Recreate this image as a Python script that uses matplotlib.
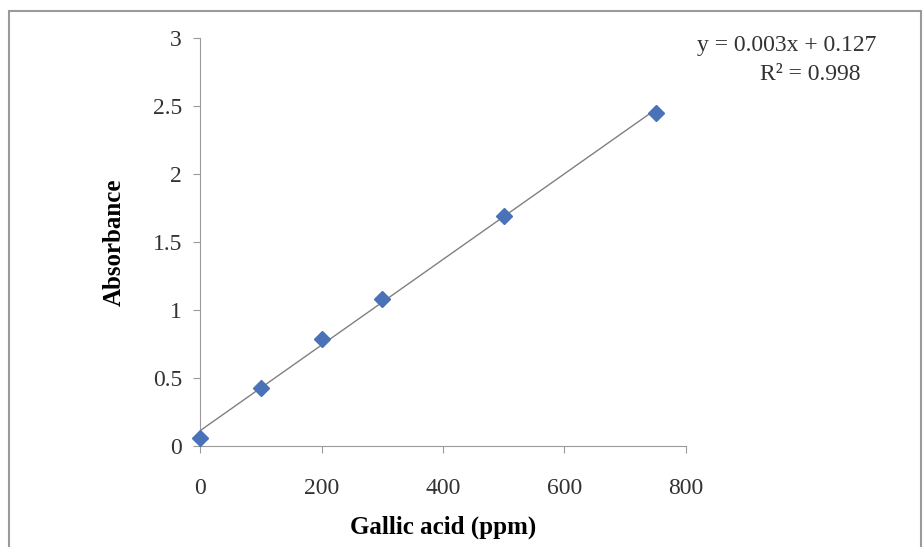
import numpy as np
import matplotlib; matplotlib.use("Agg")
import matplotlib.pyplot as plt
from matplotlib.patches import Rectangle

plt.rcParams.update({"font.family": ["Liberation Serif", "DejaVu Serif"]})

# data
conc = [0, 100, 200, 300, 500, 750]          # Gallic acid (ppm)
absorb = [0.06, 0.43, 0.79, 1.08, 1.69, 2.45]  # Absorbance
eq_text = "y = 0.003x + 0.127"
r2_text = "R² = 0.998"
x_ticks = [0, 200, 400, 600, 800]
y_ticks = [0, 0.5, 1, 1.5, 2, 2.5, 3]
y_ticklabels = ["0", "0.5", "1", "1.5", "2", "2.5", "3"]

fig = plt.figure(figsize=(9.23, 5.47), dpi=100)
fig.patches.append(Rectangle((0.0098, -0.01), 0.988, 0.989, transform=fig.transFigure,
                             fill=False, edgecolor="#9a9a9a", lw=1.5))
ax = fig.add_axes([0.2167, 0.1846, 0.5265, 0.7459])

# linear trendline
m, b = np.polyfit(conc, absorb, 1)
xl = np.array([conc[0], conc[-1]])
ax.plot(xl, m*xl+b, color="#808080", lw=1.0, zorder=2)
ax.plot(conc, absorb, ls="none", marker="D", ms=8, color="#4a72b8", zorder=3, clip_on=False)

ax.set_xlim(0, 800); ax.set_ylim(0, 3)
ax.set_xticks(x_ticks); ax.set_yticks(y_ticks)
ax.set_yticklabels(y_ticklabels)
for s in ["top", "right"]: ax.spines[s].set_visible(False)
for s in ["left", "bottom"]: ax.spines[s].set_color("#9a9a9a")
ax.tick_params(axis="both", colors="#9a9a9a", labelcolor="#333333", labelsize=17, length=5)
ax.tick_params(axis="y", pad=8)
ax.tick_params(axis="x", pad=18)

ax.set_xlabel("Gallic acid (ppm)", fontsize=18, fontweight="bold")
ax.set_ylabel("Absorbance", fontsize=18, fontweight="bold")
ax.xaxis.set_label_coords(0.5, -0.17)
ax.yaxis.set_label_coords(-0.152, 0.5)

fig.text(0.755, 0.916, eq_text, fontsize=17, color="#333333", ha="left", va="center")
fig.text(0.8776, 0.863, r2_text, fontsize=17, color="#333333", ha="center", va="center")

fig.savefig("out.png", dpi=100)
